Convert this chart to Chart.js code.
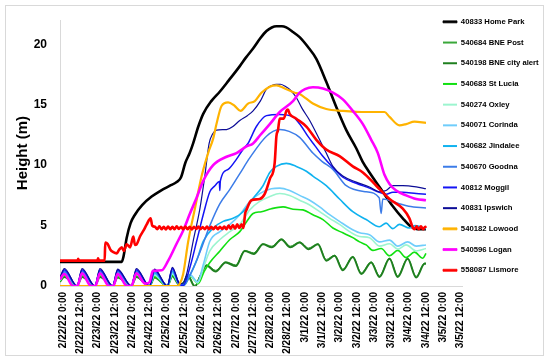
<!DOCTYPE html>
<html>
<head>
<meta charset="utf-8">
<script src="https://cdn.jsdelivr.net/npm/chart.js@4.4.1/dist/chart.umd.min.js"></script>
<style>
  html, body { margin: 0; background: #fff; }
  #wrap { position: relative; width: 550px; height: 364px; }
  #frame { position: absolute; left: 5px; top: 5px; width: 537px; height: 349px; border: 1px solid #d9d9d9; pointer-events: none; }
</style>
</head>
<body>
<div id="wrap"><canvas id="chart"></canvas><div id="frame"></div></div>
<script>
// x values are hours after 2/22/22 0:00, y values are gauge heights in metres
const tickLabels = [
  '2/22/22 0:00', '2/22/22 12:00', '2/23/22 0:00', '2/23/22 12:00', '2/24/22 0:00', '2/24/22 12:00',
  '2/25/22 0:00', '2/25/22 12:00', '2/26/22 0:00', '2/26/22 12:00', '2/27/22 0:00', '2/27/22 12:00',
  '2/28/22 0:00', '2/28/22 12:00', '3/1/22 0:00', '3/1/22 12:00', '3/2/22 0:00', '3/2/22 12:00',
  '3/3/22 0:00', '3/3/22 12:00', '3/4/22 0:00', '3/4/22 12:00', '3/5/22 0:00', '3/5/22 12:00'
];

const homePark = [[-2,2.0],[40.8,2.0],[42,2.4],[44.3,4.0],[47,5.2],[50,5.9],[55,6.7],[61.6,7.4],[68,7.9],[74.3,8.3],[79,8.6],[82,9.0],[85,10.2],[88,11.0],[90.4,11.8],[94,13.2],[97.4,14.25],[103,15.3],[109,16.1],[115,17.0],[122.8,18.2],[127,18.9],[132,19.65],[137,20.5],[141.3,21.1],[145,21.4],[148.2,21.5],[152,21.5],[155,21.4],[160,21.0],[164.3,20.6],[170,19.8],[175.9,18.8],[182.8,16.9],[189.8,14.8],[196.7,12.9],[203.6,11.4],[208,10.3],[212.8,9.4],[222,7.8],[229,6.6],[235.9,5.6],[241.7,4.9],[246,4.7],[252,4.7]];

const bnePost = [[-2,0.4],[1,0.8],[9.8,0],[13.3,0.8],[22.2,0],[25.7,0.8],[34.5,0],[38,0.75],[47.5,0],[51,0.8],[60.1,0],[63.6,0.75],[72.5,0],[76,0.85],[81,0.1],[84,0.35],[86.5,0.95],[91.6,0.05],[95.1,0.85],[99.7,1.75],[106,1.3],[113,2.0],[120,1.75],[126.2,2.95],[132.5,2.75],[138.9,3.5],[145,3.3],[151.7,3.9],[157.8,3.3],[164.3,3.65],[170.5,3.15],[177,3.5],[182.8,2.2],[188.6,2.55],[194.3,1.4],[201.2,2.45],[207.1,1.1],[214,2.0],[219.7,0.85],[226.7,2.3],[232.4,0.85],[239.3,2.3],[245.2,0.8],[251,1.9],[252,1.9]];

const bneCityAlert = [[-2,0.35],[1,0.75],[9.8,0],[13.3,0.75],[22.2,0],[25.7,0.75],[34.5,0],[38,0.7],[47.5,0],[51,0.75],[60.1,0],[63.6,0.7],[72.5,0],[76,0.8],[81,0.05],[84,0.3],[86.5,0.9],[91.6,-0.05],[95.1,0.75],[99.7,1.7],[106,1.2],[113,1.95],[120,1.65],[126.2,2.9],[132.5,2.65],[138.9,3.45],[145,3.2],[151.7,3.85],[157.8,3.2],[164.3,3.6],[170.5,3.05],[177,3.45],[182.8,2.1],[188.6,2.5],[194.3,1.3],[201.2,2.4],[207.1,1.0],[214,1.95],[219.7,0.75],[226.7,2.25],[232.4,0.75],[239.3,2.25],[245.2,0.7],[251,1.85],[252,1.85]];

const stLucia = [[-2,0.4],[1,0.85],[9.8,0],[13.3,0.85],[22.2,0],[25.7,0.85],[34.5,0],[38,0.8],[47.5,0],[51,0.85],[60.1,0],[63.6,0.8],[72.5,0],[76,0.9],[81,0.1],[84,0.05],[88.5,0.8],[94,0.2],[98,1.2],[102,1.95],[109,2.9],[115.9,3.85],[122.8,4.5],[127.4,5.3],[132,6.0],[137.8,6.15],[144.7,6.4],[152.8,6.55],[159.7,6.35],[166.6,6.3],[173.5,5.9],[180.5,5.5],[187.4,4.8],[194.3,4.4],[201.2,4.0],[205.9,3.65],[210.5,3.4],[215.1,2.95],[220.9,3.1],[226.7,2.5],[232.4,2.95],[238.2,2.35],[244,2.8],[249.8,2.3],[252,2.7]];

const oxley = [[-2,0.45],[1,0.95],[9.8,0],[13.3,0.95],[22.2,0],[25.7,0.95],[34.5,0],[38,0.9],[47.5,0],[51,0.95],[60.1,0],[63.6,0.9],[72.5,0],[76,1.0],[81,0.1],[84,0.05],[88.2,0.85],[93.5,0.25],[97.5,1.5],[102,2.9],[109,3.85],[115.9,4.5],[122.8,5.1],[129.7,6.3],[136.6,7.0],[143.6,7.4],[150.5,7.65],[157.4,7.5],[164.3,7.1],[171.3,6.7],[178.2,6.15],[185.1,5.6],[192,5.1],[199,4.5],[205.9,4.1],[212.8,4.0],[219.7,3.3],[226.7,3.5],[232.4,3.05],[238.2,3.4],[245.2,2.9],[252,3.1]];

const corinda = [[-2,0.5],[1,1.05],[9.8,0],[13.3,1.05],[22.2,0],[25.7,1.05],[34.5,0],[38,1.0],[47.5,0],[51,1.05],[60.1,0],[63.6,1.0],[72.5,0],[76,1.1],[81,0.15],[84,0.1],[88.2,0.95],[93.5,0.35],[97.5,1.8],[102,3.7],[109,4.5],[115.9,5.1],[122.8,5.9],[129.7,7.0],[136.6,7.65],[144.7,8.05],[150.5,8.1],[157.4,7.9],[164.3,7.5],[171.3,7.1],[178.2,6.55],[185.1,5.9],[192,5.35],[199,4.8],[205.9,4.4],[212.8,4.25],[219.7,3.65],[226.7,3.8],[232.4,3.3],[239.3,3.65],[245.2,3.3],[252,3.4]];

const jindalee = [[-2,0.55],[1,1.15],[9.8,0],[13.3,1.15],[22.2,0],[25.7,1.15],[34.5,0],[38,1.1],[47.5,0],[51,1.15],[60.1,0],[63.6,1.1],[72.5,0],[76,1.2],[81,0.2],[84,0.15],[88.2,0.9],[92.8,2.1],[97.4,3.7],[104.3,4.8],[111.2,5.35],[118.2,5.6],[125.1,6.15],[132,7.25],[138.9,8.3],[143.6,9.4],[148.2,9.9],[155.1,10.15],[162,9.9],[169,9.5],[173.5,9.1],[182.8,8.3],[192,7.2],[201.2,6.15],[210.5,5.5],[219.7,4.9],[224.3,5.2],[229,4.75],[233.6,5.1],[240.5,4.8],[244.6,5.0],[252,4.75]];

const goodna = [[-2,0.6],[1,1.25],[9.8,0],[13.3,1.25],[22.2,0],[25.7,1.25],[34.5,0],[38,1.2],[47.5,0],[51,1.25],[60.1,0],[63.6,1.2],[72.5,0],[76,1.35],[80.5,0.15],[84,0.05],[88.2,0.9],[95.1,2.8],[102,5.0],[108.9,6.8],[115.9,8.0],[122.8,9.3],[129.7,10.6],[141.3,12.4],[150.5,12.95],[157,12.8],[164.3,12.3],[173.5,11.0],[180,10.3],[187.4,9.65],[196.7,8.3],[210.5,7.8],[219.5,7.3],[220.9,6.0],[222,7.2],[232.4,6.85],[240,6.6],[252,6.45]];

const moggil = [[-2,0.65],[1,1.35],[9.8,0],[13.3,1.35],[22.2,0],[25.7,1.35],[34.5,0],[38,1.3],[47.5,0],[51,1.35],[60.1,0],[63.6,1.3],[72.5,0],[76,1.45],[80.5,0.2],[83.5,0.05],[88.2,1.55],[92.8,3.7],[97.4,5.9],[102,7.8],[105.5,8.3],[108.6,8.65],[108.9,7.9],[109.3,8.7],[114.7,9.65],[120.5,10.5],[125,11.3],[128.5,11.8],[134.3,13.2],[141.3,14.1],[150.5,14.2],[159.7,14.0],[165,13.3],[170,12.4],[175,11.6],[180,10.8],[187.4,9.8],[194.3,9.0],[203.6,8.5],[212.8,8.1],[219.7,7.75],[224.3,7.6],[229,7.75],[235.9,7.75],[245.2,7.65],[252,7.6]];

const ipswich = [[-2,0.7],[1,1.45],[9.8,0],[13.3,1.45],[22.2,0],[25.7,1.45],[34.5,0],[38,1.4],[47.5,0],[51,1.45],[60.1,0],[63.6,1.4],[72.5,0],[76,1.55],[80.5,0.3],[83,0.2],[85.9,1.0],[90.4,3.7],[95.1,6.4],[98.5,9.1],[101.5,11.8],[104,12.6],[106.6,12.9],[113.6,12.95],[118,13.2],[122.8,13.7],[128,14.1],[132,14.5],[137,15.3],[141.3,16.3],[145,16.6],[148.2,16.7],[151,16.7],[154,16.55],[158,16.2],[162,15.6],[166,14.7],[171.3,13.7],[178.2,12.1],[182.8,11.0],[187.4,9.9],[194.3,9.1],[203.6,8.6],[212.8,8.2],[219.7,7.8],[224.3,7.9],[229,8.3],[235.9,8.3],[245.2,8.2],[252,8.05]];

const lowood = [[-2,0],[78.9,0],[81.2,0.2],[83.5,1.0],[87,3.7],[91.6,6.4],[96.3,9.1],[100.8,11.0],[104.3,12.2],[106.6,13.4],[110.1,14.9],[114.7,15.2],[119.3,14.9],[123.3,14.5],[128.5,15.1],[133.2,15.3],[137.8,16.0],[143.6,16.5],[148.2,16.6],[154,16.35],[160.9,16.0],[164.3,15.9],[173.5,15.1],[182.8,14.65],[194.3,14.5],[210.5,14.4],[223.2,14.4],[226.7,14.0],[233.6,13.3],[238.2,13.4],[244,13.6],[252,13.5]];

const logan = [[-2,0.55],[1,1.0],[7,0],[10,0],[13.3,1.05],[19.5,0],[22.5,0],[25.7,1.05],[32,0],[35,0],[38,1.0],[44.5,0],[47.5,0],[51,1.05],[57,0.2],[60,0.3],[62.5,1.25],[68.6,1.3],[73.1,2.1],[78.9,3.5],[83.5,4.6],[88.2,6.0],[92.8,7.3],[97.4,8.7],[104.3,10.0],[113.6,10.7],[120.5,11.0],[127.4,11.55],[132,11.8],[137,12.5],[143.6,13.4],[150.5,14.4],[159.7,15.3],[164.3,16.0],[168,16.3],[173.5,16.45],[180.5,16.35],[187.4,16.0],[194.3,15.45],[201.2,14.5],[208.2,13.4],[214,12.1],[218.6,11.0],[223.2,9.2],[226.7,8.45],[231.3,7.9],[238.2,7.5],[245.2,7.2],[252,7.1]];

const lismore = [[-2,2.1],[10.2,2.1],[10.6,2.25],[11.2,2.1],[24,2.1],[24.4,2.3],[25,2.1],[29,2.1],[29.4,3.6],[31,3.5],[33,3.0],[35,2.8],[37.4,2.7],[39,3.0],[40.9,3.2],[42.3,2.9],[44.3,3.45],[46.6,3.2],[48.9,4.1],[50,3.4],[51.2,3.45],[53.5,4.1],[56,4.6],[58.2,5.1],[60.9,5.6],[62,5.0],[63.9,4.9],
  [65.5,4.7],[67,4.95],[68.5,4.7],[70,4.9],[71.5,4.68],[73,4.92],[74.5,4.7],[76,4.9],[77.5,4.7],[79,4.95],[80.5,4.72],[82,4.9],[83.5,4.7],[85,4.92],[86.5,4.7],[88,4.9],[89.5,4.68],[91,4.9],[92.5,4.72],[94,4.92],[95.5,4.7],[97,4.88],[98.5,4.7],[100,4.92],[101.5,4.7],[103,4.9],[104.5,4.7],[106,4.92],[107.5,4.7],[109,4.9],[110.5,4.72],[112,4.92],[113.5,4.7],[115,5.0],[116.5,4.75],[118,5.05],[119.5,4.75],[121,5.1],[122.5,4.8],[124,5.1],[125.3,4.8],
  [126.5,6.0],[127.4,6.3],[130.9,7.1],[136.6,7.2],[140,7.6],[143.6,8.85],[147,10.2],[148.2,12.4],[149.3,12.9],[150.5,13.85],[153.3,13.85],[155.1,14.5],[156.2,14.6],[157.4,14.25],[162,13.85],[169,13.2],[175.9,12.1],[182.8,11.3],[192,10.75],[201.2,9.9],[208.2,9.4],[217.5,8.3],[226.7,7.2],[235.9,6.4],[240.5,5.6],[242.8,4.85],
  [244,4.7],[245.5,4.95],[247,4.7],[248.5,4.95],[250,4.7],[251.5,4.9],[252,4.8]];

const seriesNames = ['40833 Home Park', '540684 BNE Post', '540198 BNE city alert', '540683 St Lucia', '540274 Oxley', '540071 Corinda', '540682 Jindalee', '540670 Goodna', '40812 Moggil', '40831 Ipswich', '540182 Lowood', '540596 Logan', '558087 Lismore'];
const seriesData = [homePark, bnePost, bneCityAlert, stLucia, oxley, corinda, jindalee, goodna, moggil, ipswich, lowood, logan, lismore];
const seriesColors = ['#000000', '#3aa83a', '#1f7f1f', '#11e011', '#9cf5cf', '#6fcdfb', '#0fb2ef', '#3c7ce8', '#1414f5', '#0c0c96', '#ffb300', '#ff00ff', '#ff0000'];
const seriesWidths = [2.6, 1, 2, 1.6, 1.6, 1.6, 1.6, 1.5, 1.5, 1.2, 2.2, 2.6, 2.6];

Chart.defaults.font.family = "'Liberation Sans', Arial, sans-serif";
Chart.defaults.color = '#000';

// legend sits partly over the right end of the plot, like the original
const legendPlacer = {
  id: 'legendPlacer',
  afterLayout(chart) {
    const lg = chart.legend;
    lg.left = 430;
    lg.right = 550;
    lg.top = 5;
  }
};

const ctx = document.getElementById('chart').getContext('2d');
new Chart(ctx, {
  type: 'line',
  data: {
    datasets: seriesData.map((pts, i) => ({
      label: seriesNames[i],
      data: pts.map(p => ({ x: p[0], y: p[1] })),
      borderColor: seriesColors[i],
      backgroundColor: seriesColors[i],
      borderWidth: seriesWidths[i],
      pointRadius: 0,
      pointHoverRadius: 0,
      cubicInterpolationMode: 'monotone',
      fill: false,
      order: seriesData.length - i
    }))
  },
  options: {
    responsive: true,
    maintainAspectRatio: false,
    animation: false,
    events: [],
    layout: { padding: { top: 15, right: 0, bottom: 0, left: 0 } },
    plugins: {
      tooltip: { enabled: false },
      legend: {
        position: 'right',
        align: 'start',
        maxWidth: 88,
        labels: {
          boxWidth: 14,
          boxHeight: 2,
          padding: 13,
          color: '#1a1a1a',
          font: { size: 7.7, weight: 'bold' },
          generateLabels(chart) {
            return chart.data.datasets.map((ds, i) => ({
              text: ds.label,
              fillStyle: ds.borderColor,
              strokeStyle: ds.borderColor,
              lineWidth: ds.borderWidth > 2 ? 0.8 : 0,
              hidden: false,
              datasetIndex: i
            }));
          }
        }
      }
    },
    scales: {
      x: {
        type: 'linear',
        min: -2,
        max: 277,
        grid: { display: false, drawTicks: false },
        border: { display: true, color: '#d9d9d9', width: 1 },
        afterFit(scale) { scale.height = 78; },
        afterBuildTicks(scale) { scale.ticks = tickLabels.map((_, i) => ({ value: i * 12 })); },
        ticks: {
          autoSkip: false,
          minRotation: 90,
          maxRotation: 90,
          padding: 6,
          font: { size: 10, weight: 'bold' },
          callback: (v, i) => tickLabels[i]
        }
      },
      y: {
        min: 0,
        max: 22,
        grid: { display: false, drawTicks: false },
        border: { display: true, color: '#d9d9d9', width: 1 },
        afterFit(scale) { scale.width = 60; },
        ticks: { stepSize: 5, includeBounds: false, padding: 13, font: { size: 12, weight: 'bold' } },
        title: { display: true, text: 'Height (m)', font: { size: 15, weight: 'bold' }, padding: { top: 14, bottom: 0 } }
      }
    }
  },
  plugins: [legendPlacer]
});
</script>
</body>
</html>
